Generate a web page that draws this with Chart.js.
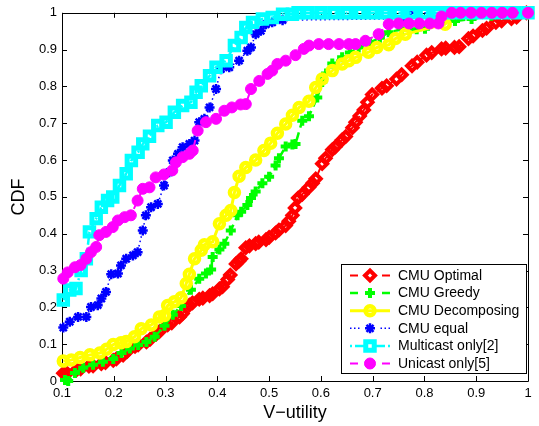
<!DOCTYPE html>
<html>
<head>
<meta charset="utf-8">
<script src="https://cdn.jsdelivr.net/npm/chart.js@4.4.0/dist/chart.umd.min.js"></script>
<style>
    body { margin: 0; background: #fff; }
    #wrap { width: 539px; height: 426px; }
</style>
</head>
<body>
<div id="wrap"><canvas id="cdfChart" width="539" height="426"></canvas></div>
<script>
// tick labels
const X_TICKS = [0.1, 0.2, 0.3, 0.4, 0.5, 0.6, 0.7, 0.8, 0.9, 1];
const Y_TICKS = [0, 0.1, 0.2, 0.3, 0.4, 0.5, 0.6, 0.7, 0.8, 0.9, 1];

const SERIES_NAMES = ['CMU Optimal', 'CMU Greedy', 'CMU Decomposing', 'CMU equal', 'Multicast only[2]', 'Unicast only[5]'];

// [V-utility, CDF] pairs
const optimal = [
    [0.1025, 0.021], [0.11, 0.021], [0.128, 0.03], [0.136, 0.033], [0.152, 0.04], [0.16, 0.041], [0.176, 0.047], [0.184, 0.05],
    [0.199, 0.056], [0.205, 0.06], [0.218, 0.07], [0.226, 0.08], [0.241, 0.094], [0.247, 0.098], [0.263, 0.106], [0.27, 0.113],
    [0.282, 0.127], [0.288, 0.134], [0.304, 0.152], [0.312, 0.158], [0.327, 0.174], [0.333, 0.183], [0.346, 0.206], [0.352, 0.212],
    [0.365, 0.222], [0.372, 0.225], [0.385, 0.232], [0.391, 0.237], [0.404, 0.25], [0.41, 0.256], [0.42, 0.276], [0.425, 0.288],
    [0.436, 0.318], [0.442, 0.326], [0.446, 0.332], [0.455, 0.362], [0.462, 0.367], [0.474, 0.373], [0.48, 0.377], [0.494, 0.384],
    [0.5, 0.39], [0.5125, 0.402], [0.519, 0.41], [0.532, 0.422], [0.538, 0.434], [0.545, 0.45], [0.55, 0.47], [0.556, 0.497],
    [0.564, 0.507], [0.577, 0.526], [0.584, 0.537], [0.59, 0.549], [0.6025, 0.59], [0.609, 0.605], [0.622, 0.628], [0.628, 0.636],
    [0.641, 0.655], [0.648, 0.664], [0.661, 0.688], [0.667, 0.703], [0.675, 0.72], [0.683, 0.736], [0.69, 0.757], [0.699, 0.778],
    [0.718, 0.795], [0.727, 0.802], [0.746, 0.82], [0.756, 0.832], [0.776, 0.856], [0.786, 0.866], [0.804, 0.885], [0.814, 0.892],
    [0.833, 0.902], [0.841, 0.904], [0.858, 0.906], [0.867, 0.908], [0.885, 0.93], [0.894, 0.937], [0.912, 0.952], [0.92, 0.958],
    [0.938, 0.974], [0.949, 0.978], [0.968, 0.984], [0.978, 0.988], [0.997, 1.0]
];

const greedy = [
    [0.1058, 0.003], [0.112, 0.0], [0.125, 0.022], [0.141, 0.036], [0.16, 0.044], [0.179, 0.052], [0.199, 0.06], [0.215, 0.076],
    [0.231, 0.088], [0.247, 0.098], [0.263, 0.106], [0.279, 0.12], [0.298, 0.15], [0.314, 0.18], [0.33, 0.204], [0.349, 0.248],
    [0.365, 0.278], [0.378, 0.292], [0.388, 0.303], [0.391, 0.337], [0.404, 0.357], [0.4135, 0.373], [0.426, 0.409], [0.439, 0.45],
    [0.446, 0.46], [0.458, 0.478], [0.465, 0.497], [0.474, 0.515], [0.487, 0.537], [0.5, 0.555], [0.5125, 0.585], [0.519, 0.605],
    [0.532, 0.637], [0.545, 0.642], [0.551, 0.644], [0.564, 0.707], [0.577, 0.719], [0.593, 0.77], [0.6025, 0.812], [0.61, 0.835],
    [0.622, 0.862], [0.641, 0.879], [0.656, 0.892], [0.673, 0.906], [0.695, 0.92], [0.714, 0.932], [0.731, 0.947], [0.756, 0.955],
    [0.785, 0.955], [0.801, 0.957], [0.833, 0.974], [0.859, 0.978], [0.891, 0.983], [0.929, 0.992], [0.96, 1.0]
];

const decomposing = [
    [0.1025, 0.054], [0.118, 0.057], [0.135, 0.064], [0.154, 0.071], [0.173, 0.076], [0.186, 0.086], [0.199, 0.099], [0.214, 0.104],
    [0.224, 0.107], [0.24, 0.12], [0.253, 0.142], [0.2725, 0.152], [0.288, 0.174], [0.298, 0.178], [0.304, 0.205], [0.317, 0.215],
    [0.33, 0.226], [0.34, 0.265], [0.346, 0.29], [0.356, 0.332], [0.369, 0.355], [0.375, 0.37], [0.391, 0.378], [0.404, 0.427],
    [0.417, 0.45], [0.426, 0.463], [0.433, 0.512], [0.442, 0.556], [0.455, 0.58], [0.474, 0.6], [0.49, 0.626], [0.503, 0.646],
    [0.516, 0.673], [0.532, 0.698], [0.545, 0.722], [0.558, 0.743], [0.577, 0.76], [0.59, 0.797], [0.6025, 0.82], [0.622, 0.843],
    [0.641, 0.861], [0.654, 0.87], [0.667, 0.879], [0.692, 0.893], [0.708, 0.906], [0.731, 0.913], [0.744, 0.93], [0.763, 0.942],
    [0.84, 0.969], [0.855, 1.0], [1.0, 1.0]
];

const equal = [
    [0.1025, 0.145], [0.115, 0.161], [0.131, 0.174], [0.147, 0.174], [0.156, 0.201], [0.169, 0.206], [0.176, 0.224], [0.185, 0.242],
    [0.195, 0.29], [0.208, 0.292], [0.214, 0.314], [0.224, 0.332], [0.237, 0.341], [0.246, 0.35], [0.256, 0.409], [0.262, 0.45],
    [0.272, 0.472], [0.285, 0.481], [0.297, 0.531], [0.307, 0.567], [0.314, 0.599], [0.324, 0.617], [0.333, 0.635], [0.346, 0.644],
    [0.356, 0.653], [0.365, 0.703], [0.375, 0.712], [0.385, 0.743], [0.3975, 0.793], [0.407, 0.847], [0.423, 0.852], [0.442, 0.87],
    [0.458, 0.897], [0.465, 0.906], [0.474, 0.942], [0.484, 0.951], [0.494, 0.969], [0.506, 0.974], [0.526, 0.98], [0.763, 0.984],
    [0.77, 1.0], [1.0, 1.0]
];

const multicast = [
    [0.1025, 0.22], [0.115, 0.247], [0.127, 0.251], [0.137, 0.3], [0.147, 0.332], [0.153, 0.405], [0.166, 0.441], [0.176, 0.472],
    [0.188, 0.49], [0.198, 0.5], [0.211, 0.531], [0.224, 0.563], [0.234, 0.599], [0.247, 0.621], [0.256, 0.644], [0.269, 0.665],
    [0.285, 0.694], [0.301, 0.703], [0.317, 0.73], [0.333, 0.748], [0.349, 0.757], [0.359, 0.784], [0.369, 0.802], [0.385, 0.829],
    [0.3975, 0.852], [0.417, 0.87], [0.433, 0.911], [0.446, 0.933], [0.455, 0.96], [0.468, 0.974], [0.487, 0.983], [0.506, 0.987],
    [0.526, 0.996], [0.545, 0.996], [0.556, 1.0], [0.575, 1.0], [0.6, 1.0], [0.625, 1.0], [0.65, 1.0], [0.675, 1.0],
    [0.7, 1.0], [0.725, 1.0], [0.75, 1.0], [0.775, 1.0], [0.8, 1.0], [0.825, 1.0], [0.85, 1.0], [0.875, 1.0],
    [0.9, 1.0], [0.925, 1.0], [0.95, 1.0], [0.975, 1.0], [1.0, 1.0]
];

const unicast = [
    [0.1025, 0.278], [0.111, 0.295], [0.125, 0.309], [0.136, 0.315], [0.147, 0.332], [0.156, 0.35], [0.166, 0.364], [0.172, 0.396],
    [0.185, 0.405], [0.198, 0.418], [0.208, 0.436], [0.221, 0.445], [0.233, 0.45], [0.246, 0.49], [0.256, 0.522], [0.269, 0.526],
    [0.281, 0.553], [0.297, 0.561], [0.313, 0.572], [0.32, 0.594], [0.333, 0.608], [0.346, 0.617], [0.3525, 0.626], [0.362, 0.68],
    [0.378, 0.703], [0.3975, 0.712], [0.4135, 0.734], [0.428, 0.743], [0.445, 0.751], [0.455, 0.752], [0.465, 0.793], [0.481, 0.815],
    [0.497, 0.834], [0.506, 0.843], [0.516, 0.861], [0.532, 0.87], [0.551, 0.885], [0.567, 0.902], [0.577, 0.911], [0.596, 0.915],
    [0.615, 0.915], [0.635, 0.915], [0.654, 0.915], [0.667, 0.915], [0.686, 0.924], [0.7115, 0.942], [0.731, 0.969], [0.75, 0.971],
    [0.77, 0.971], [0.79, 0.971], [0.81, 0.971], [0.827, 0.971], [0.833, 0.99], [0.8525, 1.0], [0.87, 1.0], [0.89, 1.0],
    [0.91, 1.0], [0.93, 1.0], [0.95, 1.0], [0.97, 1.0], [1.0, 1.0]
];

const FONT = '"Liberation Sans", Arial, Helvetica, sans-serif';

const toPoints = pairs => pairs.map(([x, y]) => ({ x, y }));

// marker + line look for each series (MATLAB-ish, thick marker edges)
const STYLES = [
    { color: '#ff0000', dash: [8, 5], width: 2, pointStyle: 'rectRot', radius: 5, pbw: 4, fill: 'rgba(0,0,0,0)', legendLine: 'dashed' },
    { color: '#00ff00', dash: [8, 5], width: 2.5, pointStyle: 'cross', radius: 5, pbw: 4, fill: 'rgba(0,0,0,0)', legendLine: 'dashed' },
    { color: '#ffff00', dash: [], width: 3, pointStyle: 'circle', radius: 4.5, pbw: 4.5, fill: 'rgba(0,0,0,0)', legendLine: 'solid' },
    { color: '#0000ff', dash: [1.5, 3], width: 1.5, pointStyle: 'star', radius: 5, pbw: 2.5, fill: 'rgba(0,0,0,0)', legendLine: 'dotted' },
    { color: '#00ffff', dash: [8, 3, 2, 3], width: 2.5, pointStyle: 'rect', radius: 6, pbw: 5, fill: 'rgba(0,0,0,0)', legendLine: 'dashdot' },
    { color: '#ff00ff', dash: [8, 5], width: 2, pointStyle: 'circle', radius: 5.5, pbw: 1, fill: '#ff00ff', legendLine: 'dashed' }
];

const seriesData = [optimal, greedy, decomposing, equal, multicast, unicast].map(toPoints);

const datasets = SERIES_NAMES.map((name, i) => {
    const s = STYLES[i];
    return {
        label: name,
        data: seriesData[i],
        showLine: true,
        borderColor: s.color,
        borderWidth: s.width,
        borderDash: s.dash,
        backgroundColor: s.fill,
        pointStyle: s.pointStyle,
        pointRadius: s.radius,
        pointBorderWidth: s.pbw,
        pointBorderColor: s.color,
        pointBackgroundColor: s.fill,
        tension: 0,
        clip: false,
        // later series drawn on top, like MATLAB
        order: SERIES_NAMES.length - i
    };
});

// box around the axes with inward ticks on all four sides
const boxPlugin = {
    id: 'matlabBox',
    beforeDatasetsDraw(chart) {
        const { ctx, chartArea: a, scales } = chart;
        const tl = 5;
        ctx.save();
        ctx.strokeStyle = '#000';
        ctx.lineWidth = 1;
        ctx.beginPath();
        ctx.rect(Math.round(a.left) + 0.5, Math.round(a.top) + 0.5, Math.round(a.right - a.left), Math.round(a.bottom - a.top));
        for (const v of X_TICKS) {
            const px = Math.round(scales.x.getPixelForValue(v)) + 0.5;
            ctx.moveTo(px, a.bottom);
            ctx.lineTo(px, a.bottom - tl);
            ctx.moveTo(px, a.top);
            ctx.lineTo(px, a.top + tl);
        }
        for (const v of Y_TICKS) {
            const py = Math.round(scales.y.getPixelForValue(v)) + 0.5;
            ctx.moveTo(a.left, py);
            ctx.lineTo(a.left + tl, py);
            ctx.moveTo(a.right, py);
            ctx.lineTo(a.right - tl, py);
        }
        ctx.stroke();
        ctx.restore();
    }
};

function legendSegments(kind, x0, x1) {
    if (kind === 'solid') return [[x0, x1]];
    if (kind === 'dotted') return [[x0, x0 + 1.5], [x0 + 4, x0 + 5.5], [x0 + 8, x0 + 9.5], [x1 - 9.5, x1 - 8], [x1 - 5.5, x1 - 4], [x1 - 1.5, x1]];
    if (kind === 'dashdot') return [[x0, x0 + 2], [x0 + 5, x0 + 15], [x1 - 15, x1 - 5], [x1 - 2, x1]];
    return [[x0, x0 + 8], [x1 - 8, x1]];
}

const legendPlugin = {
    id: 'matlabLegend',
    afterDraw(chart) {
        const ctx = chart.ctx;
        const bx = 341.5, by = 264.5, bw = 185, bh = 109;
        const rowH = 17.6;
        ctx.save();
        ctx.fillStyle = '#fff';
        ctx.fillRect(bx, by, bw, bh);
        ctx.strokeStyle = '#000';
        ctx.lineWidth = 1;
        ctx.strokeRect(bx, by, bw, bh);
        SERIES_NAMES.forEach((name, i) => {
            const s = STYLES[i];
            const y = by + 11 + i * rowH;
            ctx.strokeStyle = s.color;
            ctx.lineWidth = s.width;
            ctx.setLineDash([]);
            ctx.beginPath();
            for (const [a, b] of legendSegments(s.legendLine, 350, 390)) {
                ctx.moveTo(a, y);
                ctx.lineTo(b, y);
            }
            ctx.stroke();
            ctx.fillStyle = s.fill;
            ctx.lineWidth = s.pbw;
            Chart.helpers.drawPoint(ctx, { pointStyle: s.pointStyle, radius: s.radius, borderWidth: s.pbw, rotation: 0 }, 370, y);
            ctx.fillStyle = '#000';
            ctx.font = '14px ' + FONT;
            ctx.textBaseline = 'middle';
            ctx.textAlign = 'left';
            ctx.fillText(name, 398, y + 0.5);
        });
        ctx.restore();
    }
};

const fmt = v => String(Number(v.toFixed(1)));

new Chart(document.getElementById('cdfChart'), {
    type: 'scatter',
    data: { datasets },
    options: {
        responsive: false,
        animation: false,
        events: [],
        layout: { padding: { top: 12, right: 9, bottom: 0, left: 0 } },
        plugins: {
            legend: { display: false },
            tooltip: { enabled: false }
        },
        scales: {
            x: {
                type: 'linear',
                min: 0.1,
                max: 1,
                afterFit(scale) { scale.height = 45; },
                afterBuildTicks(scale) { scale.ticks = X_TICKS.map(v => ({ value: v })); },
                grid: { display: false, drawTicks: false },
                border: { display: false },
                ticks: {
                    autoSkip: false,
                    maxRotation: 0,
                    padding: 5,
                    color: '#000',
                    font: { family: FONT, size: 13 },
                    callback: v => fmt(v)
                },
                title: {
                    display: true,
                    text: 'V\u2212utility',
                    color: '#000',
                    font: { family: FONT, size: 18 },
                    padding: { top: 0, bottom: 2 }
                }
            },
            y: {
                type: 'linear',
                min: 0,
                max: 1,
                afterFit(scale) { scale.width = 62; },
                afterBuildTicks(scale) { scale.ticks = Y_TICKS.map(v => ({ value: v })); },
                grid: { display: false, drawTicks: false },
                border: { display: false },
                ticks: {
                    autoSkip: false,
                    padding: 5,
                    color: '#000',
                    font: { family: FONT, size: 13 },
                    callback: v => fmt(v)
                },
                title: {
                    display: true,
                    text: 'CDF',
                    color: '#000',
                    font: { family: FONT, size: 18 },
                    padding: { top: 8, bottom: 0 }
                }
            }
        }
    },
    plugins: [boxPlugin, legendPlugin]
});
</script>
</body>
</html>
